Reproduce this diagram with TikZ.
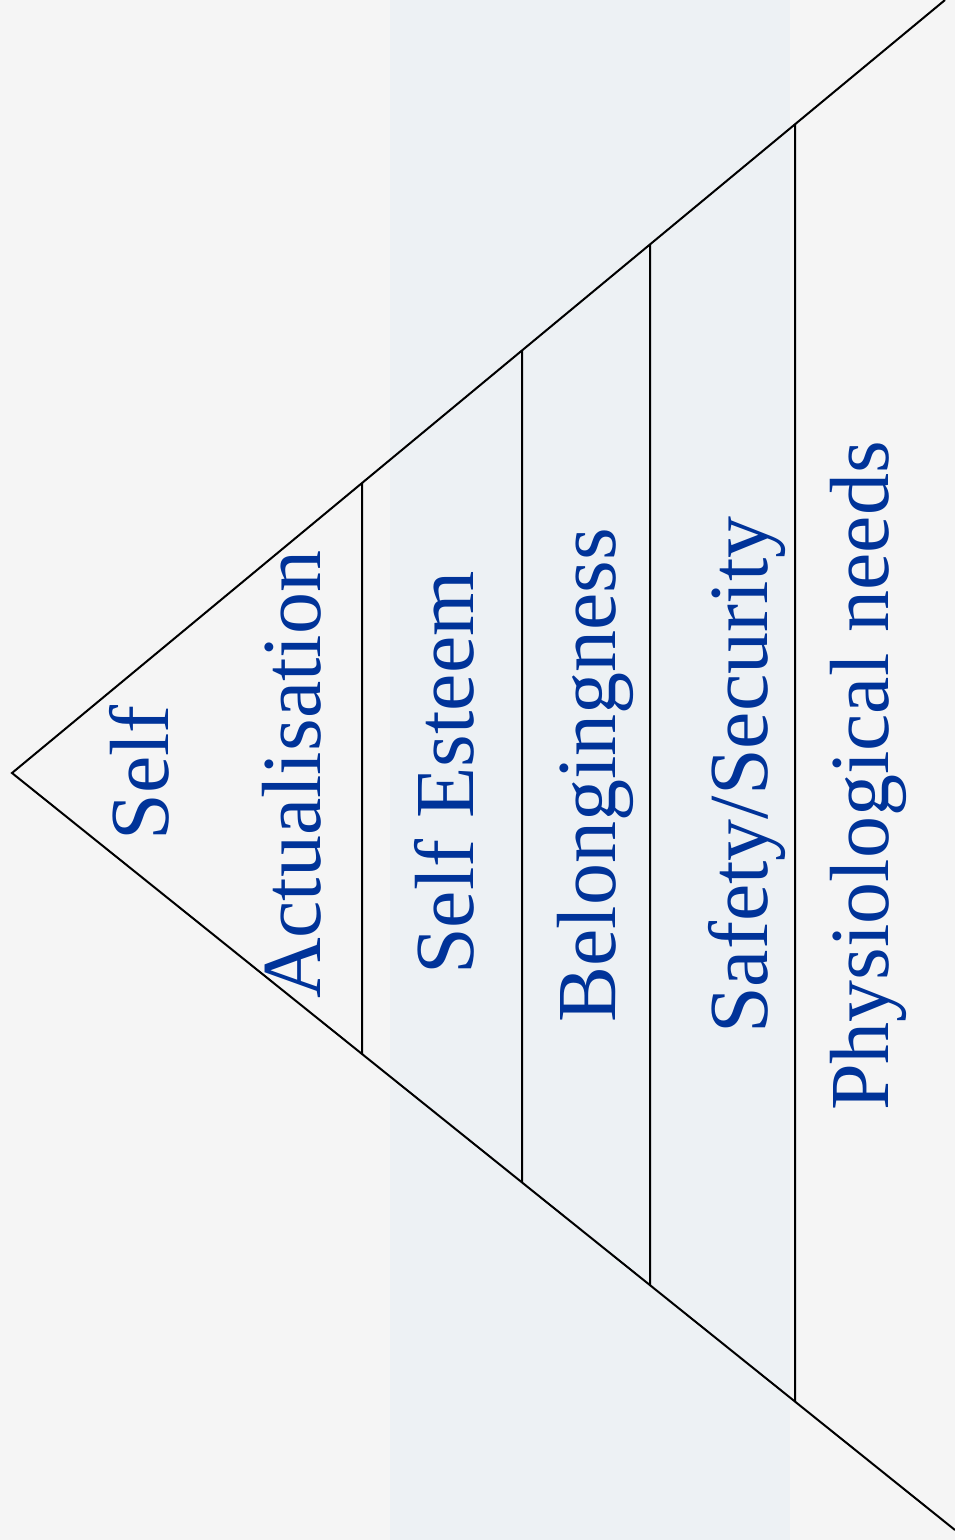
\documentclass[tikz,border=0pt]{standalone}
\usepackage{fontspec}
\setmainfont{Liberation Serif}
\usepackage{xcolor}
\definecolor{needblue}{HTML}{003399}
\definecolor{slidebg}{HTML}{F5F5F5}
\definecolor{slideband}{HTML}{EDF1F4}

\begin{document}
\begin{tikzpicture}[x=1pt, y=-1pt,
  level/.style={rotate=90, anchor=base, inner sep=0pt, text=needblue, font=\fontsize{84}{100}\selectfont},
  edge/.style={black, line width=2pt}
]
% slide background
\fill[slidebg] (0,0) rectangle (955,1540);
\fill[slideband] (390,0) rectangle (790,1540);
\useasboundingbox (0,0) rectangle (955,1540);

\coordinate (apex) at (12,773);
\coordinate (topc) at (945,0);
\coordinate (botc) at (955,1530);
\draw[edge] (topc) -- (apex) -- (botc);

% level separators
\foreach \x in {362,522,650,795}
  \draw[edge] (intersection of apex--topc and \x,0--\x,1540) -- (intersection of apex--botc and \x,0--\x,1540);

\node[level] (self) at (168,773) {Self};
\node[level] (actual) at (320,775) {Actualisation};
\node[level] (esteem) at (473,773) {Self Esteem};
\node[level] (belong) at (615,775) {Belongingness};
\node[level] (safety) at (767,775) {Safety/Security};
\node[level] (physio) at (888,776) {Physiological needs};
\end{tikzpicture}
\end{document}
